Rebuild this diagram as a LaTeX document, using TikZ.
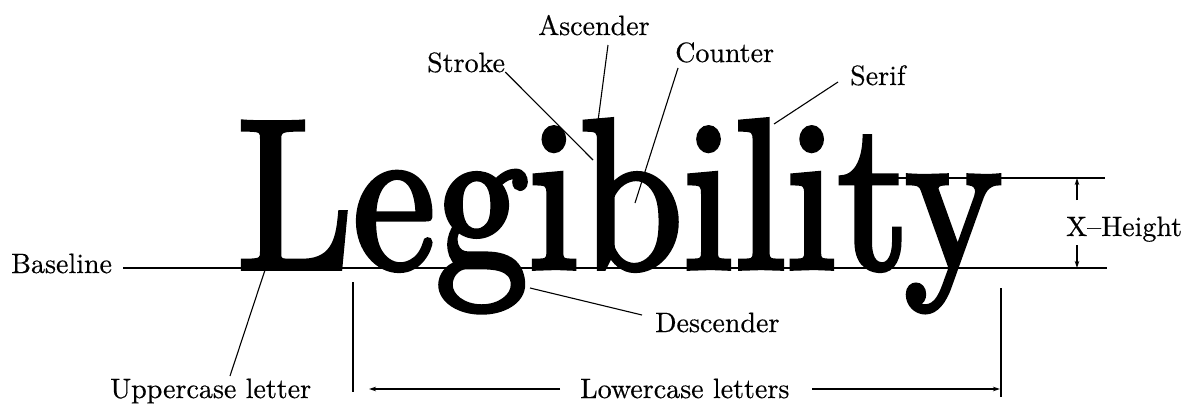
\documentclass[tikz,border=0pt]{standalone}
\usepackage{fontspec}
\usepackage{graphicx}
\usetikzlibrary{arrows.meta}
\newfontfamily\bigfont{lmroman10-regular.otf}[FakeBold=2.6]
\newfontfamily\lblfont{lmroman10-regular.otf}[FakeBold=0.4]
\tikzset{
  lbl/.style={font=\lblfont\fontsize{28}{30}\selectfont, inner sep=0pt, anchor=base west},
  lead/.style={line width=1.1pt},
  arr/.style={line width=1.1pt, -{Stealth[length=7pt,width=4.5pt]}},
}
\begin{document}
\begin{tikzpicture}[x=1pt,y=-1pt]
\useasboundingbox (0,0) rectangle (1199,407);
\fill[white] (0,0) rectangle (1199,407);
% guide lines
\coordinate (bl0) at (123,268);
\coordinate (bl1) at (1107,268);
\coordinate (xh0) at (880,178);
\coordinate (xh1) at (1105,178);
\draw[lead] (bl0) -- (bl1);
\draw[lead] (xh0) -- (xh1);
% the word
\node[inner sep=0pt, anchor=base west] (word) at (237,268)
  {\resizebox{765pt}{148pt}{\bigfont Legibility}};
% labels
\node[lbl] (baseline) at (11,273) {Baseline};
\node[lbl] (upper) at (110,398) {Uppercase letter};
\node[lbl] (stroke) at (427,72) {Stroke};
\node[lbl] (asc) at (538,35) {Ascender};
\node[lbl] (counter) at (675,62) {Counter};
\node[lbl] (serif) at (850,85) {Serif};
\node[lbl] (desc) at (655,332) {Descender};
\node[lbl] (lower) at (580,398) {Lowercase letters};
\node[lbl] (xh) at (1066,236) {X–Height};
% leader points
\coordinate (ucP) at (265,270);
\coordinate (ucQ) at (230,376);
\coordinate (stP) at (593,160);
\coordinate (asP) at (608,45);
\coordinate (asQ) at (598,121);
\coordinate (coP) at (678,68);
\coordinate (coQ) at (635,203);
\coordinate (seP) at (838,82);
\coordinate (seQ) at (774,124);
\coordinate (deP) at (530,288);
\coordinate (deQ) at (642,315);
\coordinate (xhA) at (1077,200);
\coordinate (xhB) at (1077,178);
\coordinate (xhC) at (1077,245);
\coordinate (xhD) at (1077,268);
\coordinate (lcL0) at (353,282);
\coordinate (lcL1) at (353,392);
\coordinate (lcR0) at (1001,288);
\coordinate (lcR1) at (1001,397);
\coordinate (laL0) at (560,389);
\coordinate (laL1) at (369,389);
\coordinate (laR0) at (812,389);
\coordinate (laR1) at (1000,389);
% leaders
\draw[lead] (ucP) -- (ucQ);
\draw[lead] (stroke.base east) -- (stP);
\draw[lead] (asP) -- (asQ);
\draw[lead] (coP) -- (coQ);
\draw[lead] (seP) -- (seQ);
\draw[lead] (deP) -- (deQ);
\draw[arr] (xhA) -- (xhB);
\draw[arr] (xhC) -- (xhD);
\draw[lead] (lcL0) -- (lcL1);
\draw[lead] (lcR0) -- (lcR1);
\draw[arr] (laL0) -- (laL1);
\draw[arr] (laR0) -- (laR1);
\end{tikzpicture}
\end{document}
